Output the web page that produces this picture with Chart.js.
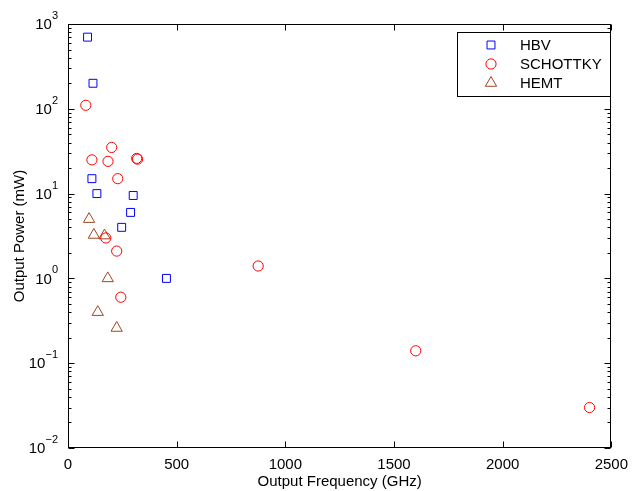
<!DOCTYPE html>
<html>
<head>
<meta charset="utf-8">
<script src="https://cdn.jsdelivr.net/npm/chart.js@4.4.0/dist/chart.umd.min.js"></script>
<style>
  html, body { margin: 0; padding: 0; background: #fff; }
  canvas { display: block; }
</style>
</head>
<body>
<canvas id="powerChart" width="636" height="491"></canvas>
<script>
// Data (GHz, mW)
const hbvFreq = [90, 115, 110, 133, 300, 288, 247, 453];
const hbvPower = [700, 200, 15, 10, 9.5, 6, 4, 1];

const schottkyFreq = [82, 201, 110, 184, 316, 320, 229, 174, 224, 243, 875, 1600, 2400];
const schottkyPower = [110, 35, 25, 24, 26, 25.5, 15, 3, 2.1, 0.6, 1.4, 0.14, 0.03];

const hemtFreq = [97, 119, 168, 183, 137, 224];
const hemtPower = [5, 3.25, 3.2, 1, 0.4, 0.26];

const xTicks = [0, 500, 1000, 1500, 2000, 2500];
const yTicks = [0.01, 0.1, 1, 10, 100, 1000];
const yExponents = ['\u22122', '\u22121', '0', '1', '2', '3'];

const seriesNames = ['HBV', 'SCHOTTKY', 'HEMT'];

const fontFamily = "'Liberation Sans', Arial, Helvetica, sans-serif";
const axisFont = { family: fontFamily, size: 15 };

function toPoints(xs, ys) {
  return xs.map((x, i) => ({ x: x, y: ys[i] }));
}

// Box, inward ticks, 10^n labels and legend, MATLAB style
const matlabFrame = {
  id: 'matlabFrame',
  afterDraw(chart) {
    const { ctx, chartArea: a, scales: { x, y } } = chart;
    const L = Math.round(a.left) + 0.5, R = Math.round(a.right) - 0.5;
    const T = Math.round(a.top) + 0.5, B = Math.round(a.bottom) - 0.5;
    ctx.save();
    ctx.strokeStyle = '#000';
    ctx.lineWidth = 1;
    ctx.strokeRect(L, T, R - L, B - T);

    ctx.beginPath();
    xTicks.forEach(v => {
      const px = Math.round(x.getPixelForValue(v)) + 0.5;
      ctx.moveTo(px, B); ctx.lineTo(px, B - 6);
      ctx.moveTo(px, T); ctx.lineTo(px, T + 6);
    });
    yTicks.forEach(v => {
      const py = Math.round(y.getPixelForValue(v)) + 0.5;
      ctx.moveTo(L, py); ctx.lineTo(L + 6, py);
      ctx.moveTo(R, py); ctx.lineTo(R - 6, py);
    });
    for (let d = 0; d < yTicks.length - 1; d++) {
      for (let k = 2; k <= 9; k++) {
        const py = Math.round(y.getPixelForValue(yTicks[d] * k)) + 0.5;
        ctx.moveTo(L, py); ctx.lineTo(L + 3, py);
        ctx.moveTo(R, py); ctx.lineTo(R - 3, py);
      }
    }
    ctx.stroke();

    // y tick labels as 10 with a raised exponent
    ctx.fillStyle = '#000';
    ctx.textBaseline = 'middle';
    yTicks.forEach((v, i) => {
      const py = y.getPixelForValue(v);
      ctx.font = '11px ' + fontFamily;
      const ew = ctx.measureText(yExponents[i]).width;
      const ex = 58 - ew;
      ctx.textAlign = 'left';
      ctx.fillText(yExponents[i], ex, py - 8);
      ctx.font = '15px ' + fontFamily;
      ctx.textAlign = 'right';
      ctx.fillText('10', ex, py + 1);
    });

    // legend box
    const bx = 457.5, by = 32.5, bw = 153, bh = 64;
    ctx.fillStyle = '#fff';
    ctx.fillRect(bx, by, bw, bh);
    ctx.strokeRect(bx, by, bw, bh);
    ctx.font = '15px ' + fontFamily;
    ctx.textBaseline = 'middle';
    ctx.textAlign = 'left';
    chart.data.datasets.forEach((ds, i) => {
      const ry = 45 + i * 19;
      ctx.strokeStyle = ds.borderColor;
      ctx.fillStyle = 'rgba(0,0,0,0)';
      ctx.lineWidth = 1;
      Chart.helpers.drawPoint(ctx, {
        pointStyle: ds.pointStyle, radius: ds.pointRadius, rotation: 0, borderWidth: 1
      }, 491, ry);
      ctx.fillStyle = '#000';
      ctx.fillText(seriesNames[i], 520, ry + 1);
    });
    ctx.restore();
  }
};

const ctx = document.getElementById('powerChart').getContext('2d');
const chart = new Chart(ctx, {
  type: 'scatter',
  data: {
    datasets: [
      {
        label: seriesNames[0],
        data: toPoints(hbvFreq, hbvPower),
        pointStyle: 'rect',
        pointRadius: 5.6,
        borderColor: '#0000ff',
        backgroundColor: 'rgba(0,0,0,0)',
        borderWidth: 1
      },
      {
        label: seriesNames[1],
        data: toPoints(schottkyFreq, schottkyPower),
        pointStyle: 'circle',
        pointRadius: 5.1,
        borderColor: '#ff0000',
        backgroundColor: 'rgba(0,0,0,0)',
        borderWidth: 1
      },
      {
        label: seriesNames[2],
        data: toPoints(hemtFreq, hemtPower),
        pointStyle: 'triangle',
        pointRadius: 6.5,
        borderColor: '#a0461e',
        backgroundColor: 'rgba(0,0,0,0)',
        borderWidth: 1
      }
    ]
  },
  options: {
    responsive: false,
    animation: false,
    layout: { padding: { top: 24, right: 22, left: 0, bottom: 0 } },
    plugins: {
      legend: { display: false },
      tooltip: { enabled: false }
    },
    scales: {
      x: {
        type: 'linear',
        min: 0,
        max: 2500,
        afterBuildTicks: scale => { scale.ticks = xTicks.map(v => ({ value: v })); },
        afterFit: scale => { scale.height = 43; },
        grid: { display: false, drawTicks: false },
        border: { display: false },
        ticks: { font: axisFont, color: '#000', padding: 8, callback: v => String(v) },
        title: {
          display: true,
          text: 'Output Frequency (GHz)',
          font: axisFont,
          color: '#000',
          padding: { top: 0, bottom: 0 }
        }
      },
      y: {
        type: 'logarithmic',
        min: 0.01,
        max: 1000,
        afterBuildTicks: scale => { scale.ticks = yTicks.map(v => ({ value: v, major: true })); },
        afterFit: scale => { scale.width = 68; },
        grid: { display: false, drawTicks: false },
        border: { display: false },
        ticks: { display: false },
        title: {
          display: true,
          text: 'Output Power (mW)',
          font: axisFont,
          color: '#000',
          padding: { top: 11, bottom: 0 }
        }
      }
    }
  },
  plugins: [matlabFrame]
});
</script>
</body>
</html>
